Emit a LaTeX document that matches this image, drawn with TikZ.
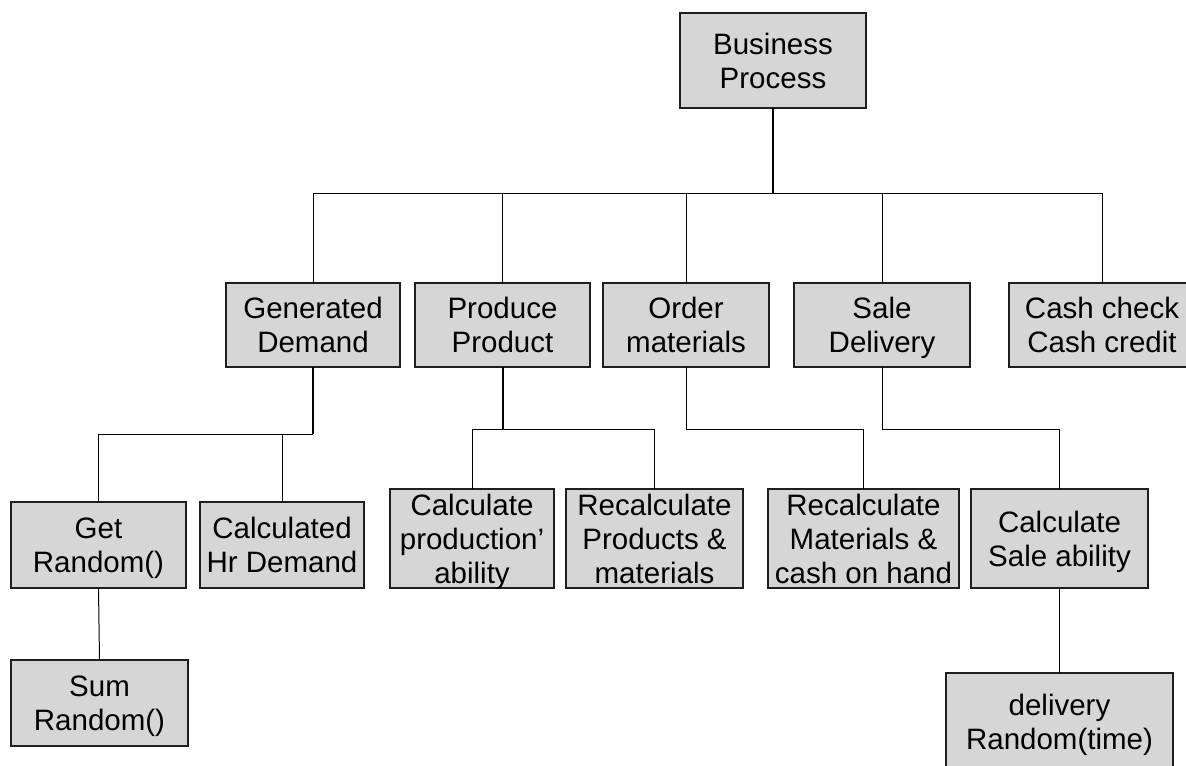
\documentclass[tikz,border=0pt]{standalone}
\usepackage{fontspec}
\setmainfont{Liberation Sans}
\definecolor{boxfill}{RGB}{214,214,214}
\definecolor{edge}{RGB}{30,30,30}
\begin{document}
\begin{tikzpicture}[x=0.5pt,y=-0.5pt,
  box/.style={draw=edge,fill=boxfill,line width=0.6pt,inner sep=0pt,outer sep=0pt,
    align=center,text depth=0pt,font=\fontsize{14.75}{17}\selectfont},
  link/.style={draw=black,line width=0.5pt},
  stem/.style={draw=black,line width=1pt}]
\useasboundingbox (0,0) rectangle (1186,765);
\clip (0,0) rectangle (1186,765);
\fill[white] (0,0) rectangle (1186,765);

% root
\node[box,minimum width=93pt,minimum height=47.5pt] (bp) at (773,60.5) {Business\\Process};

% first level
\node[box,minimum width=87pt,minimum height=42pt] (gd) at (313,325) {Generated\\Demand};
\node[box,minimum width=87.5pt,minimum height=42pt] (pp) at (502.5,325) {Produce\\Product};
\node[box,minimum width=83pt,minimum height=42pt] (om) at (686,325) {Order\\materials};
\node[box,minimum width=88pt,minimum height=42pt] (sd) at (882,325) {Sale\\Delivery};
\node[box,minimum width=93pt,minimum height=42pt] (cc) at (1102,325) {Cash check\\Cash credit};

% second level
\node[box,minimum width=87.5pt,minimum height=43pt] (gr) at (98.5,545) {Get\\Random()};
\node[box,minimum width=82pt,minimum height=43pt] (hr) at (282,545) {Calculated\\Hr Demand};
\node[box,minimum width=82pt,minimum height=49.5pt] (cp) at (472,538.5) {Calculate\\production’\\ability};
\node[box,minimum width=88.5pt,minimum height=49.5pt] (rp) at (654.5,538.5) {Recalculate\\Products \&\\materials};
\node[box,minimum width=95.5pt,minimum height=49.5pt] (rm) at (863.5,538.5) {Recalculate\\Materials \&\\cash on hand};
\node[box,minimum width=88.5pt,minimum height=49.5pt] (cs) at (1059.5,538.5) {Calculate\\Sale ability};

% third level
\node[box,minimum width=88.5pt,minimum height=43pt] (sr) at (99.5,703) {Sum\\Random()};
\node[box,minimum width=113.5pt,minimum height=48.5pt] (dr) at (1059.5,721.5) {delivery\\Random(time)};

% junction points
\coordinate (bus) at (773,193);
\coordinate (gdj) at (313,434);
\coordinate (ppj) at (502.5,429);
\coordinate (omj) at (686,429);
\coordinate (sdj) at (882,429);

% root to first level
\draw[stem] (bp.south) -- (bus);
\draw[link] (gd.north) |- (bus);
\draw[link] (pp.north) |- (bus);
\draw[link] (om.north) |- (bus);
\draw[link] (sd.north) |- (bus);
\draw[link] (cc.north) |- (bus);

% first level to second level
\draw[stem] (gd.south) -- (gdj);
\draw[link] (gr.north) |- (gdj);
\draw[link] (hr.north) |- (gdj);
\draw[stem] (pp.south) -- (ppj);
\draw[link] (cp.north) |- (ppj);
\draw[link] (rp.north) |- (ppj);
\draw[link] (om.south) -- (omj);
\draw[link] (rm.north) |- (omj);
\draw[link] (sd.south) -- (sdj);
\draw[link] (cs.north) |- (sdj);

% second level to third level
\draw[link] (gr.south) -- (sr.north);
\draw[link] (cs.south) -- (dr.north);
\end{tikzpicture}
\end{document}
